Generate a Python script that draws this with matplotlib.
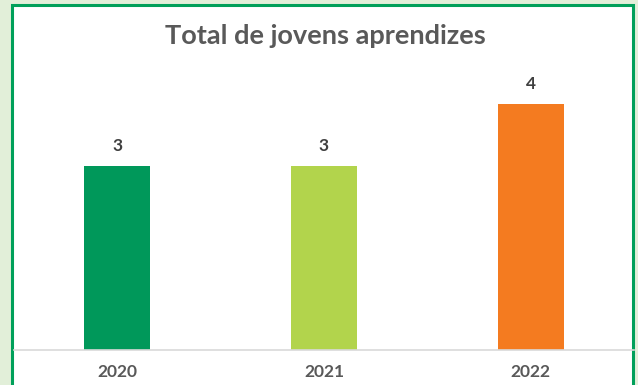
import matplotlib.pyplot as plt
from matplotlib.patches import Rectangle

years = ["2020", "2021", "2022"]
totals = [3, 3, 4]
colors = ["#00985a", "#b2d44c", "#f47b20"]

W, H = 638, 385
fig = plt.figure(figsize=(W / 100, H / 100), dpi=100)
fig.patch.set_facecolor("#e2efd9")

# white chart area with green frame, kept behind the axes
frame = Rectangle((12 / W, -0.05), (633 - 12) / W, (H - 5) / H + 0.05,
                  transform=fig.transFigure, facecolor="white",
                  edgecolor="#00a05a", linewidth=2.2, zorder=-1)
fig.patches.append(frame)

ax = fig.add_axes([14 / W, (H - 350) / H, 620 / W, (350 - 43) / H])
ax.set_zorder(1)
ax.set_facecolor("none")
bars = ax.bar(range(len(years)), totals, width=0.32, color=colors, zorder=2)
ax.set_xlim(-0.5, 2.5)
ax.set_ylim(0, 5)

for b, v in zip(bars, totals):
    ax.text(b.get_x() + b.get_width() / 2, v + 0.2, str(v), ha="center",
            va="bottom", fontsize=12.5, fontweight="bold", color="#404040",
            family="Lato")

ax.set_xticks(range(len(years)))
ax.set_xticklabels(years, fontsize=12.5, fontweight="bold", color="#595959",
                   family="Lato")
ax.tick_params(axis="x", length=0, pad=10)
ax.set_yticks([])
for s in ["top", "left", "right"]:
    ax.spines[s].set_visible(False)
ax.spines["bottom"].set_color("#d9d9d9")
ax.spines["bottom"].set_linewidth(1.2)

fig.text(325 / W, 1 - 36 / H, "Total de jovens aprendizes", ha="center",
         va="center", fontsize=19.5, fontweight="bold", color="#595959",
         family="Lato")

fig.savefig("out.png", dpi=100, facecolor=fig.get_facecolor())
